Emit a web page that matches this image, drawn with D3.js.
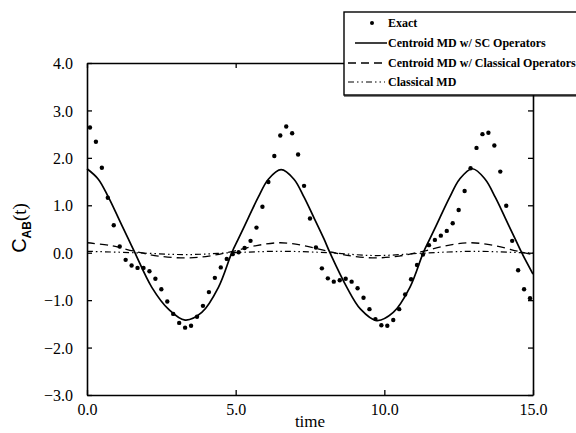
<!DOCTYPE html>
<html>
<head>
<meta charset="utf-8">
<script src="https://cdn.jsdelivr.net/npm/d3@7"></script>
<style>
  html, body { margin: 0; padding: 0; background: #fff; }
  svg { display: block; }
</style>
</head>
<body>
<div id="chart"></div>
<script>
var width = 576
var height = 433
const plot = {left: 87, right: 533, top: 63, bottom: 395}
const serif = "'Liberation Serif', 'DejaVu Serif', serif"

// exact quantum result (dots)
var exactT = [0.1, 0.3, 0.5, 0.7, 0.9, 1.1, 1.3, 1.5, 1.7, 1.9,
    2.1, 2.3, 2.5, 2.7, 2.9, 3.1, 3.3, 3.5, 3.7, 3.9,
    4.1, 4.3, 4.5, 4.7, 4.9, 5.1, 5.3, 5.5, 5.7, 5.9,
    6.1, 6.3, 6.5, 6.7, 6.9, 7.1, 7.3, 7.5, 7.7, 7.9,
    8.1, 8.3, 8.5, 8.7, 8.9, 9.1, 9.3, 9.5, 9.7, 9.9,
    10.1, 10.3, 10.5, 10.7, 10.9, 11.1, 11.3, 11.5, 11.7, 11.9,
    12.1, 12.3, 12.5, 12.7, 12.9, 13.1, 13.3, 13.5, 13.7, 13.9,
    14.1, 14.3, 14.5, 14.7, 14.9]
var exactV = [2.64, 2.34, 1.79, 1.16, 0.58, 0.13, -0.15, -0.27, -0.32, -0.32,
    -0.39, -0.55, -0.77, -1.03, -1.29, -1.48, -1.58, -1.54, -1.35, -1.12,
    -0.83, -0.53, -0.31, -0.13, -0.03, 0.01, 0.10, 0.25, 0.53, 0.97,
    1.49, 2.04, 2.47, 2.66, 2.52, 2.07, 1.41, 0.72, 0.11, -0.33,
    -0.54, -0.61, -0.58, -0.55, -0.61, -0.75, -0.95, -1.19, -1.40, -1.53,
    -1.54, -1.42, -1.19, -0.88, -0.56, -0.26, -0.04, 0.16, 0.27, 0.36,
    0.46, 0.62, 0.90, 1.30, 1.78, 2.21, 2.50, 2.53, 2.26, 1.71,
    0.99, 0.25, -0.37, -0.77, -0.96]

// centroid MD with SC operators (solid)
var scT = [0.0, 0.38, 0.72, 1.05, 1.39, 1.61, 2.18, 2.74, 3.30, 3.86, 4.42, 4.87,
    5.09, 5.43, 5.76, 6.10, 6.53, 6.96, 7.30, 7.63, 7.97, 8.17,
    8.74, 9.20, 9.74, 10.30, 10.86, 11.31, 11.53, 11.87, 12.20, 12.53,
    12.96, 13.39, 13.73, 14.06, 14.40, 14.62, 15.0]
var scV = [1.77, 1.55, 1.17, 0.74, 0.29, 0.0, -0.73, -1.19, -1.42, -1.26, -0.73, 0.0,
    0.29, 0.74, 1.17, 1.55, 1.75, 1.55, 1.17, 0.74, 0.29, 0.0,
    -0.73, -1.19, -1.43, -1.26, -0.73, 0.0, 0.29, 0.74, 1.17, 1.55,
    1.77, 1.55, 1.17, 0.74, 0.29, 0.0, -0.45]

// centroid MD with classical operators (dashed)
var clOpT = [0.0, 0.8, 1.6, 2.4, 3.3, 4.1, 4.9, 5.7, 6.5, 7.3, 8.1, 8.9, 9.7,
    10.5, 11.3, 12.1, 12.9, 13.7, 14.5, 15.0]
var clOpV = [0.21, 0.15, 0.03, -0.07, -0.11, -0.07, 0.03, 0.15, 0.21, 0.15, 0.03, -0.07, -0.11,
    -0.07, 0.03, 0.15, 0.21, 0.15, 0.03, -0.04]

// classical MD (dash-dot)
var clT = [0.0, 1.6, 3.3, 4.9, 6.5, 8.1, 9.7, 11.3, 13.0, 14.6, 15.0]
var clV = [0.03, 0.0, -0.04, 0.0, 0.03, 0.0, -0.06, -0.01, 0.03, 0.0, -0.01]

var xTicks = [0, 5, 10, 15]
var yTicks = [-3, -2, -1, 0, 1, 2, 3, 4]
var legendLabels = ["Exact", "Centroid MD w/ SC Operators",
    "Centroid MD w/ Classical Operators", "Classical MD"]

var xScale, yScale, svg

createChart()

function zip(ts, vs)
{
    return ts.map(function(t, i) { return [t, vs[i]] })
}

function createChart()
{
    xScale = d3.scaleLinear()
        .domain([0, 15])
        .range([plot.left, plot.right])
    yScale = d3.scaleLinear()
        .domain([-3, 4])
        .range([plot.bottom, plot.top])

    svg = d3.select("#chart")
        .append("svg")
        .attr("width", width)
        .attr("height", height)

    var line = d3.line()
        .x(function(d) { return xScale(d[0]) })
        .y(function(d) { return yScale(d[1]) })
        .curve(d3.curveCatmullRom)

    // curves
    svg.append("path")
        .datum(zip(clT, clV))
        .attr("d", line)
        .attr("fill", "none")
        .attr("stroke", "#000")
        .attr("stroke-width", 1.2)
        .attr("stroke-dasharray", "6,3,1.5,3,1.5,3")

    svg.append("path")
        .datum(zip(clOpT, clOpV))
        .attr("d", line)
        .attr("fill", "none")
        .attr("stroke", "#000")
        .attr("stroke-width", 1.3)
        .attr("stroke-dasharray", "8,5")

    svg.append("path")
        .datum(zip(scT, scV))
        .attr("d", line)
        .attr("fill", "none")
        .attr("stroke", "#000")
        .attr("stroke-width", 1.7)

    svg.append("g")
        .selectAll("circle")
        .data(zip(exactT, exactV))
        .join("circle")
        .attr("cx", function(d) { return xScale(d[0]) })
        .attr("cy", function(d) { return yScale(d[1]) })
        .attr("r", 2.2)
        .attr("fill", "#000")

    // axes: frame with inward ticks
    var xAxisB = d3.axisBottom(xScale).tickValues(xTicks).tickSizeInner(-5).tickSizeOuter(0)
        .tickFormat(d3.format(".1f")).tickPadding(9)
    var xAxisT = d3.axisTop(xScale).tickValues(xTicks).tickSizeInner(-5).tickSizeOuter(0)
        .tickFormat("")
    var yAxisL = d3.axisLeft(yScale).tickValues(yTicks).tickSizeInner(-5).tickSizeOuter(0)
        .tickFormat(d3.format(".1f")).tickPadding(14)
    var yAxisR = d3.axisRight(yScale).tickValues(yTicks).tickSizeInner(-5).tickSizeOuter(0)
        .tickFormat("")

    var gB = svg.append("g").attr("transform", "translate(0," + plot.bottom + ")").call(xAxisB)
    svg.append("g").attr("transform", "translate(0," + plot.top + ")").call(xAxisT)
    var gL = svg.append("g").attr("transform", "translate(" + plot.left + ",0)").call(yAxisL)
    svg.append("g").attr("transform", "translate(" + plot.right + ",0)").call(yAxisR)

    gB.attr("font-family", serif).attr("font-size", 16)
    gL.attr("font-family", serif).attr("font-size", 16)
    svg.selectAll(".domain").attr("stroke", "#000").attr("stroke-width", 1.6)
    svg.selectAll(".tick line").attr("stroke", "#000").attr("stroke-width", 1.3)
    svg.selectAll(".tick text").attr("fill", "#000")
    gL.selectAll(".tick text").attr("dy", "0.35em")

    // axis labels
    svg.append("text")
        .attr("x", (plot.left + plot.right) / 2)
        .attr("y", 427)
        .attr("text-anchor", "middle")
        .attr("font-family", serif)
        .attr("font-size", 17)
        .text("time")

    var ylab = svg.append("text")
        .attr("transform", "translate(26,228)rotate(-90)")
        .attr("text-anchor", "middle")
        .attr("font-family", "'Liberation Sans', sans-serif")
        .attr("font-size", 20)
    ylab.append("tspan").text("C")
    ylab.append("tspan").attr("font-size", 12).attr("font-weight", "bold").attr("dy", 5).text("AB")
    ylab.append("tspan").attr("font-family", serif).attr("font-size", 19).attr("dy", -5).text("(t)")

    // legend
    var lg = svg.append("g")
    lg.append("rect")
        .attr("x", 344).attr("y", 12)
        .attr("width", 260).attr("height", 83)
        .attr("fill", "#fff")
        .attr("stroke", "#000")
        .attr("stroke-width", 1.4)
    lg.append("line")
        .attr("x1", 344).attr("x2", 576)
        .attr("y1", 96).attr("y2", 96)
        .attr("stroke", "#000").attr("stroke-width", 1)

    var rowY = [23, 43, 63, 82]
    lg.selectAll("text")
        .data(legendLabels)
        .join("text")
        .attr("font-family", serif)
        .attr("font-weight", "bold")
        .attr("font-size", 12)
        .attr("x", 388)
        .attr("y", function(d, i) { return rowY[i] + 4 })
        .text(function(d) { return d })

    lg.append("circle").attr("cx", 372).attr("cy", rowY[0]).attr("r", 2).attr("fill", "#000")
    lg.append("line").attr("x1", 355).attr("x2", 387).attr("y1", rowY[1]).attr("y2", rowY[1])
        .attr("stroke", "#000").attr("stroke-width", 1.5)
    lg.append("line").attr("x1", 348).attr("x2", 386).attr("y1", rowY[2]).attr("y2", rowY[2])
        .attr("stroke", "#000").attr("stroke-width", 1.3).attr("stroke-dasharray", "8,5")
    lg.append("line").attr("x1", 348).attr("x2", 385).attr("y1", rowY[3]).attr("y2", rowY[3])
        .attr("stroke", "#000").attr("stroke-width", 1.2).attr("stroke-dasharray", "6,3,1.5,3,1.5,3")
}
</script>
</body>
</html>
